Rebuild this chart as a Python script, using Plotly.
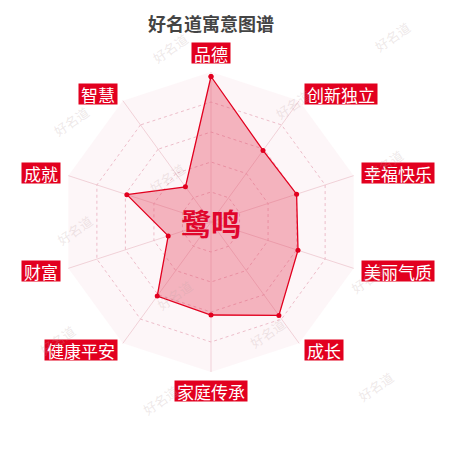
import math

import plotly.graph_objects as go

# 寓意维度（从顶部开始，顺时针）
categories = ["品德", "创新独立", "幸福快乐", "美丽气质", "成长",
              "家庭传承", "健康平安", "财富", "成就", "智慧"]
scores = [97, 59, 60, 61, 77, 62, 61, 30, 59, 29]
name_text = "鹭鸣"
title_text = "好名道寓意图谱"
max_score = 100

RED = "#e2001f"
FONT = "Noto Sans CJK SC"

# the page body adds an 8px offset, so everything is placed 8px up/left
W = H = 450
OFF = 8
cx_px, cy_px, r_px = 211 - OFF, 222 - OFF, 150
dom_x = [(cx_px - r_px) / W, (cx_px + r_px) / W]
dom_y = [1 - (cy_px + r_px) / H, 1 - (cy_px - r_px) / H]

theta = categories + [categories[0]]
r = scores + [scores[0]]

fig = go.Figure()
fig.add_trace(go.Scatterpolar(
    r=r, theta=theta, mode="lines+markers", fill="toself",
    fillcolor="rgba(228,60,90,0.36)",
    line=dict(color=RED, width=1.3),
    marker=dict(color=RED, size=5),
    hoverinfo="skip", showlegend=False,
))

annotations = []
# axis labels in red boxes, placed just outside the outer ring
cx, cy = (dom_x[0] + dom_x[1]) / 2, (dom_y[0] + dom_y[1]) / 2
lab_r = r_px * 1.053 / W
lab_size = 17
for i, cat in enumerate(categories):
    ang = math.radians(90 - i * 360 / len(categories))
    c, s = math.cos(ang), math.sin(ang)
    xa = "center" if abs(c) < 0.05 else ("left" if c > 0 else "right")
    ya = "bottom" if s > 0.95 else ("top" if s < -0.95 else "middle")
    annotations.append(dict(
        x=cx + lab_r * c, y=cy + lab_r * s, xref="paper", yref="paper",
        text=cat, showarrow=False, xanchor=xa, yanchor=ya,
        width=lab_size * len(cat) + 4, height=20,
        font=dict(family=FONT, size=lab_size, color="white"),
        bgcolor=RED, borderpad=0,
    ))

# center name
annotations.append(dict(
    x=cx, y=cy, xref="paper", yref="paper", text=name_text, showarrow=False,
    xanchor="center", yanchor="middle",
    font=dict(family=FONT, size=30, color="#e0062c", weight="bold"),
))

# title (as high as the page allows)
annotations.append(dict(
    x=cx, y=1, xref="paper", yref="paper", text=title_text,
    showarrow=False, xanchor="center", yanchor="top",
    font=dict(family=FONT, size=18, color="#444444", weight="bold"),
))

# faint watermarks
wm_pos = [(170, 27), (417, 15), (47, 100), (293, 83), (167, 157), (410, 143),
          (50, 230), (393, 278), (150, 295), (267, 355), (33, 362), (160, 422),
          (400, 408)]
for px, py in wm_pos:
    annotations.append(dict(
        x=(px - OFF) / W, y=1 - (py - OFF) / H, xref="paper", yref="paper",
        text="好名道", showarrow=False, textangle=-35,
        font=dict(family=FONT, size=13, color="rgba(190,165,165,0.25)"),
    ))

fig.update_layout(
    width=W, height=H,
    margin=dict(l=0, r=0, t=0, b=0),
    paper_bgcolor="white",
    polar=dict(
        domain=dict(x=dom_x, y=dom_y),
        gridshape="linear",
        bgcolor="rgba(242,205,214,0.18)",
        radialaxis=dict(range=[0, max_score], tickvals=[20, 40, 60, 80, 100],
                        showticklabels=False, ticks="", showline=False,
                        gridcolor="rgba(232,175,190,0.8)", griddash="dot",
                        gridwidth=1),
        angularaxis=dict(rotation=90, direction="clockwise",
                         showticklabels=False, ticks="", showline=False,
                         gridcolor="rgba(238,200,208,0.8)", gridwidth=1),
    ),
    annotations=annotations,
)

fig.write_html("out.html")
